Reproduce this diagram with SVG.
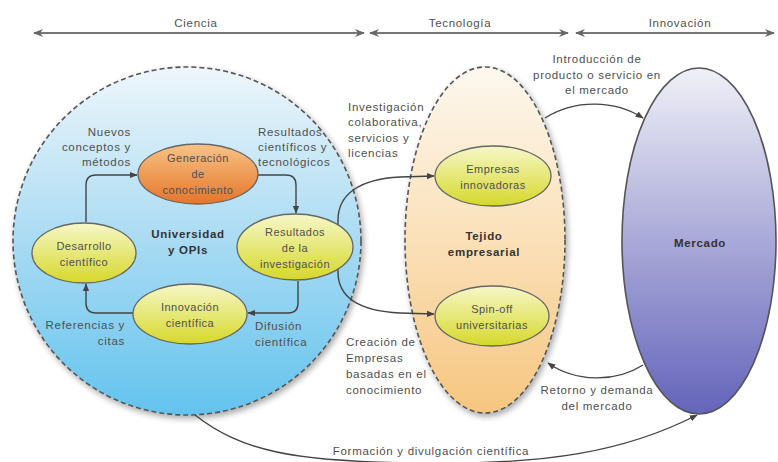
<svg xmlns="http://www.w3.org/2000/svg" width="778" height="462" viewBox="0 0 778 462">
<defs>
<linearGradient id="gBlue" x1="0" y1="0" x2="0" y2="1"><stop offset="0" stop-color="#eef6fb"/><stop offset="0.5" stop-color="#a9dbf3"/><stop offset="1" stop-color="#63c3ee"/></linearGradient>
<linearGradient id="gOrange" x1="0" y1="0" x2="0" y2="1"><stop offset="0" stop-color="#fdf8ef"/><stop offset="0.5" stop-color="#fae0b8"/><stop offset="1" stop-color="#f6c680"/></linearGradient>
<linearGradient id="gPurple" x1="0" y1="0" x2="0" y2="1"><stop offset="0" stop-color="#f0f0f8"/><stop offset="0.5" stop-color="#a9a9d8"/><stop offset="1" stop-color="#6464bb"/></linearGradient>
<linearGradient id="gYellow" x1="0" y1="0" x2="0" y2="1"><stop offset="0" stop-color="#f6f7c8"/><stop offset="1" stop-color="#d6d82a"/></linearGradient>
<linearGradient id="gGen" x1="0" y1="0" x2="0" y2="1"><stop offset="0" stop-color="#f9c385"/><stop offset="1" stop-color="#e6752a"/></linearGradient>
<filter id="sh" x="-10%" y="-10%" width="120%" height="120%"><feGaussianBlur in="SourceAlpha" stdDeviation="3"/><feOffset dx="2" dy="3"/><feComponentTransfer><feFuncA type="linear" slope="0.35"/></feComponentTransfer><feMerge><feMergeNode/><feMergeNode in="SourceGraphic"/></feMerge></filter>
<marker id="ah" viewBox="0 0 10 10" refX="9" refY="5" markerWidth="8" markerHeight="8" markerUnits="userSpaceOnUse" orient="auto"><path d="M0,1 L10,5 L0,9 z" fill="#444"/></marker>
<marker id="ahg" viewBox="0 0 10 10" refX="9" refY="5" markerWidth="10" markerHeight="10" markerUnits="userSpaceOnUse" orient="auto-start-reverse"><path d="M0,1 L10,5 L0,9 L3,5 z" fill="#666"/></marker>
</defs>
<style>
text{font-family:"Liberation Sans",Arial,sans-serif;font-size:11.5px;letter-spacing:0.7px;fill:#4f4f4f}
.n{font-size:11px;letter-spacing:0.5px}
.c{text-anchor:middle}
.r{text-anchor:end}
.b{font-weight:bold;fill:#333}
.conn{fill:none;stroke:#444;stroke-width:1.4;marker-end:url(#ah)}
.axis{fill:none;stroke:#777;stroke-width:2;marker-start:url(#ahg);marker-end:url(#ahg)}
.node{stroke:#666;stroke-width:1.3}
.dash{stroke:#555;stroke-width:1.6;stroke-dasharray:5 3}
</style>
<rect width="778" height="462" fill="#ffffff"/>

<g id="axes">
<line class="axis" x1="34" y1="33" x2="364" y2="33"/>
<text class="c" x="196" y="27">Ciencia</text>
<line class="axis" x1="370" y1="33" x2="568" y2="33"/>
<text class="c" x="460" y="27">Tecnología</text>
<line class="axis" x1="576" y1="33" x2="774" y2="33"/>
<text class="c" x="680" y="27">Innovación</text>
</g>

<g id="universidad">
<circle cx="187" cy="241" r="174" fill="url(#gBlue)" class="dash" filter="url(#sh)"/>
<text class="c b" x="188" y="238">Universidad</text>
<text class="c b" x="188" y="254">y OPIs</text>
</g>

<g id="tejido">
<ellipse cx="485" cy="240" rx="80" ry="173" fill="url(#gOrange)" class="dash" filter="url(#sh)"/>
<text class="c b" x="484" y="240">Tejido</text>
<text class="c b" x="484" y="256">empresarial</text>
</g>

<g id="mercado">
<ellipse cx="699" cy="241" rx="77" ry="173" fill="url(#gPurple)" stroke="#555" stroke-width="1.6"/>
<text class="c b" x="700" y="247">Mercado</text>
</g>

<g id="connectors">
<path class="conn" d="M86,222 V185 Q86,175 96,175 H137"/>
<path class="conn" d="M258,175 H286 Q296,175 296,185 V213"/>
<path class="conn" d="M298,281 V303 Q298,313 288,313 H248"/>
<path class="conn" d="M133,313 H96 Q86,313 86,303 V284"/>
<path class="conn" d="M338,246 V220 C338,194 360,179 400,177 L434,176"/>
<path class="conn" d="M338,246 V272 C338,298 360,311 400,313 L434,314"/>
<path class="conn" d="M545,118 C575,99 615,100 643,118"/>
<path class="conn" d="M643,365 C615,383 575,382 548,363"/>
<path class="conn" d="M195,415 C240,450 290,462 420,463 C545,465 625,452 697,415"/>
</g>

<g id="generacion">
<ellipse class="node" cx="198" cy="174" rx="60" ry="30" fill="url(#gGen)"/>
<text class="c n" x="198" y="162">Generación</text>
<text class="c n" x="198" y="178">de</text>
<text class="c n" x="198" y="194">conocimiento</text>
</g>
<g id="desarrollo">
<ellipse class="node" cx="84" cy="253" rx="52" ry="30" fill="url(#gYellow)"/>
<text class="c n" x="84" y="250">Desarrollo</text>
<text class="c n" x="84" y="266">científico</text>
</g>
<g id="resultados">
<ellipse class="node" cx="295" cy="247" rx="58" ry="33" fill="url(#gYellow)"/>
<text class="c n" x="295" y="236">Resultados</text>
<text class="c n" x="295" y="252">de la</text>
<text class="c n" x="295" y="268">investigación</text>
</g>
<g id="innovacion">
<ellipse class="node" cx="190" cy="314" rx="57" ry="30" fill="url(#gYellow)"/>
<text class="c n" x="190" y="311">Innovación</text>
<text class="c n" x="190" y="327">científica</text>
</g>
<g id="empresas">
<ellipse class="node" cx="493" cy="176" rx="58" ry="30" fill="url(#gYellow)"/>
<text class="c n" x="493" y="173">Empresas</text>
<text class="c n" x="493" y="189">innovadoras</text>
</g>
<g id="spinoff">
<ellipse class="node" cx="492" cy="316" rx="57" ry="30" fill="url(#gYellow)"/>
<text class="c n" x="492" y="313">Spin-off</text>
<text class="c n" x="492" y="329">universitarias</text>
</g>

<g id="labels">
<text class="r" x="131" y="136">Nuevos</text>
<text class="r" x="131" y="151">conceptos y</text>
<text class="r" x="131" y="166">métodos</text>
<text x="258" y="136">Resultados</text>
<text x="258" y="151">científicos y</text>
<text x="258" y="166">tecnológicos</text>
<text class="r" x="125" y="329">Referencias y</text>
<text class="r" x="125" y="345">citas</text>
<text x="255" y="330">Difusión</text>
<text x="255" y="346">científica</text>
<text x="348" y="111">Investigación</text>
<text x="348" y="126">colaborativa,</text>
<text x="348" y="142">servicios y</text>
<text x="348" y="157">licencias</text>
<text x="346" y="346">Creación de</text>
<text x="346" y="362">Empresas</text>
<text x="346" y="378">basadas en el</text>
<text x="346" y="394">conocimiento</text>
<text class="c" x="597" y="63">Introducción de</text>
<text class="c" x="597" y="79">producto o servicio en</text>
<text class="c" x="597" y="94">el mercado</text>
<text class="c" x="597" y="394">Retorno y demanda</text>
<text class="c" x="597" y="410">del mercado</text>
<text class="c" x="431" y="455">Formación y divulgación científica</text>
</g>
</svg>
